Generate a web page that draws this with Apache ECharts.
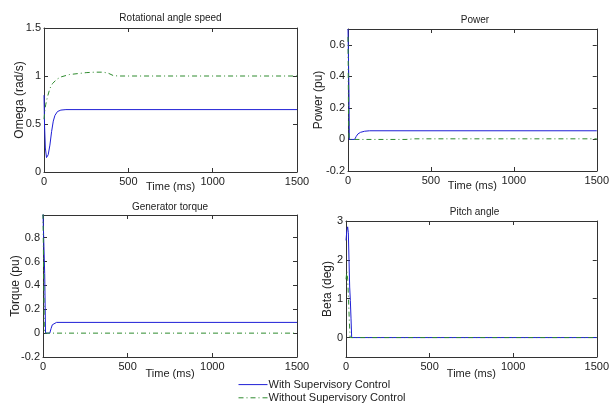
<!DOCTYPE html>
<html>
<head>
<meta charset="utf-8">
<script src="https://cdn.jsdelivr.net/npm/echarts@6/dist/echarts.min.js"></script>
<style>
html,body{margin:0;padding:0;background:#fff;}
#c{width:612px;height:408px;}
</style>
</head>
<body>
<div id="c"></div>
<script>
// ---------- DATA ----------
const seriesNames = ['With Supervisory Control', 'Without Supervisory Control'];
const panelTitles = ['Rotational angle speed', 'Power', 'Generator torque', 'Pitch angle'];
const yLabels = ['Omega (rad/s)', 'Power (pu)', 'Torque (pu)', 'Beta (deg)'];
const xLabel = 'Time (ms)';
const xTicks = [0, 500, 1000, 1500];

// Rotational angle speed
const speedTimeWith = [0, 3, 8, 15, 25, 35, 45, 55, 65, 80, 100, 130, 1500];
const speedWith     = [0.8, 0.5, 0.25, 0.15, 0.18, 0.28, 0.42, 0.53, 0.59, 0.63, 0.645, 0.65, 0.65];
const speedTimeWithout = [0, 5, 10, 20, 35, 50, 75, 100, 150, 200, 250, 300, 350, 380, 410, 440, 1500];
const speedWithout     = [0.55, 0.64, 0.7, 0.78, 0.87, 0.92, 0.965, 0.99, 1.015, 1.025, 1.035, 1.04, 1.04, 1.03, 1.005, 1.0, 1.0];
const speedTicks = [0, 0.5, 1, 1.5];

// Power
const powerTimeWith = [0, 3, 6, 8, 40, 50, 60, 75, 100, 130, 1500];
const powerWith     = [0.7, 0.7, 0.3, 0, 0, 0.02, 0.035, 0.045, 0.052, 0.055, 0.055];
const powerTimeWithout = [0, 3, 6, 350, 400, 1500];
const powerWithout     = [0.65, 0.2, 0, 0, 0.004, 0.004];
const powerTicks = [-0.2, 0, 0.2, 0.4, 0.6];

// Generator torque
const torqueTimeWith = [0, 5, 10, 15, 40, 48, 55, 65, 80, 1500];
const torqueWith     = [1.0, 1.0, 0.5, 0, 0, 0.04, 0.07, 0.085, 0.09, 0.09];
const torqueTimeWithout = [0, 4, 8, 1500];
const torqueWithout     = [1.0, 0.5, 0, 0];
const torqueTicks = [-0.2, 0, 0.2, 0.4, 0.6, 0.8];

// Pitch angle
const pitchTimeWith = [0, 5, 10, 14, 18, 22, 26, 30, 34, 1500];
const pitchWith     = [2.5, 2.75, 2.85, 2.7, 2.0, 1.3, 0.95, 0.5, 0, 0];
const pitchTimeWithout = [0, 5, 10, 15, 20, 25, 1500];
const pitchWithout     = [1.5, 1.7, 1.5, 1.0, 0.4, 0, 0];
const pitchTicks = [0, 1, 2, 3];

// ---------- LAYOUT ----------
const grids = [
  {left: 44, top: 28, width: 253, height: 144},
  {left: 348, top: 29, width: 254, height: 142},
  {left: 43, top: 215, width: 254, height: 142},
  {left: 346, top: 221, width: 257, height: 136}
];
const yRanges = [[0, 1.5], [-0.2, 0.7], [-0.2, 0.99], [-0.5, 3]];
const yTickSets = [speedTicks, powerTicks, torqueTicks, pitchTicks];
const yNameGaps = [18, 23, 21, 12];
const titleY = [18, 20, 207, 212];
const xLabelGap = [9, 9, 11, 11];

const font = "'Liberation Sans',Arial,sans-serif";
const axisColor = '#333';
const blue = '#1f1fd6';
const green = '#2e8b2e';
const fmt = v => String(Math.round(v * 100) / 100);

const pair = (t, v) => t.map((x, i) => [x, v[i]]);
const data = [
  [pair(speedTimeWith, speedWith), pair(speedTimeWithout, speedWithout)],
  [pair(powerTimeWith, powerWith), pair(powerTimeWithout, powerWithout)],
  [pair(torqueTimeWith, torqueWith), pair(torqueTimeWithout, torqueWithout)],
  [pair(pitchTimeWith, pitchWith), pair(pitchTimeWithout, pitchWithout)]
];

const xAxes = [], yAxes = [], series = [], graphics = [];
grids.forEach((g, i) => {
  const xc = {
    type: 'value', gridIndex: i, min: 0, max: 1500,
    axisLine: {show: true, onZero: false, lineStyle: {color: axisColor, width: 1}},
    axisTick: {show: true, inside: true, length: 4, customValues: xTicks, lineStyle: {color: axisColor}},
    splitLine: {show: false}
  };
  xAxes.push(Object.assign({}, xc, {
    position: 'bottom',
    name: xLabel, nameLocation: 'middle', nameGap: xLabelGap[i], nameMoveOverlap: false,
    nameTextStyle: {fontFamily: font, fontSize: 11, color: '#222', verticalAlign: 'top'},
    axisLabel: {show: true, customValues: xTicks, formatter: fmt, fontFamily: font, fontSize: 11, color: '#222', margin: 4}
  }));
  xAxes.push(Object.assign({}, xc, {position: 'top', axisLabel: {show: false}}));
  const yc = {
    type: 'value', gridIndex: i, min: yRanges[i][0], max: yRanges[i][1],
    axisLine: {show: true, onZero: false, lineStyle: {color: axisColor, width: 1}},
    axisTick: {show: true, inside: true, length: 4, customValues: yTickSets[i], lineStyle: {color: axisColor}},
    splitLine: {show: false}
  };
  yAxes.push(Object.assign({}, yc, {
    position: 'left',
    name: yLabels[i], nameLocation: 'middle', nameGap: yNameGaps[i], nameRotate: 90, nameMoveOverlap: false,
    nameTextStyle: {fontFamily: font, fontSize: 12, color: '#222'},
    axisLabel: {show: true, customValues: yTickSets[i], formatter: fmt, fontFamily: font, fontSize: 11, color: '#222', margin: 3}
  }));
  yAxes.push(Object.assign({}, yc, {position: 'right', axisLabel: {show: false}}));

  series.push({
    name: seriesNames[0], type: 'line', xAxisIndex: 2 * i, yAxisIndex: 2 * i,
    data: data[i][0], symbol: 'none', smooth: false, clip: true,
    lineStyle: {color: blue, width: 1}, itemStyle: {color: blue}
  });
  series.push({
    name: seriesNames[1], type: 'line', xAxisIndex: 2 * i, yAxisIndex: 2 * i,
    data: data[i][1], symbol: 'none', smooth: false, clip: true,
    lineStyle: {color: green, width: 1, type: [5, 3, 1, 3]}, itemStyle: {color: green}
  });

  graphics.push({
    type: 'text', x: g.left + g.width / 2, y: titleY[i],
    style: {text: panelTitles[i], fontFamily: font, fontSize: 10, fill: '#222', textAlign: 'center', textVerticalAlign: 'middle'}
  });
});

const chart = echarts.init(document.getElementById('c'), null, {renderer: 'canvas'});
chart.setOption({
  animation: false,
  backgroundColor: '#fff',
  grid: grids.map(g => Object.assign({containLabel: false}, g)),
  xAxis: xAxes,
  yAxis: yAxes,
  series: series,
  graphic: graphics,
  legend: {
    data: seriesNames, orient: 'vertical', left: 238, top: 379,
    itemWidth: 29, itemHeight: 14, itemGap: 2,
    itemStyle: {opacity: 0, borderWidth: 0},
    lineStyle: {width: 1},
    textStyle: {fontFamily: font, fontSize: 11, color: '#222', padding: [0, 0, 0, -4]},
    padding: 0, selectedMode: false
  }
});
</script>
</body>
</html>
